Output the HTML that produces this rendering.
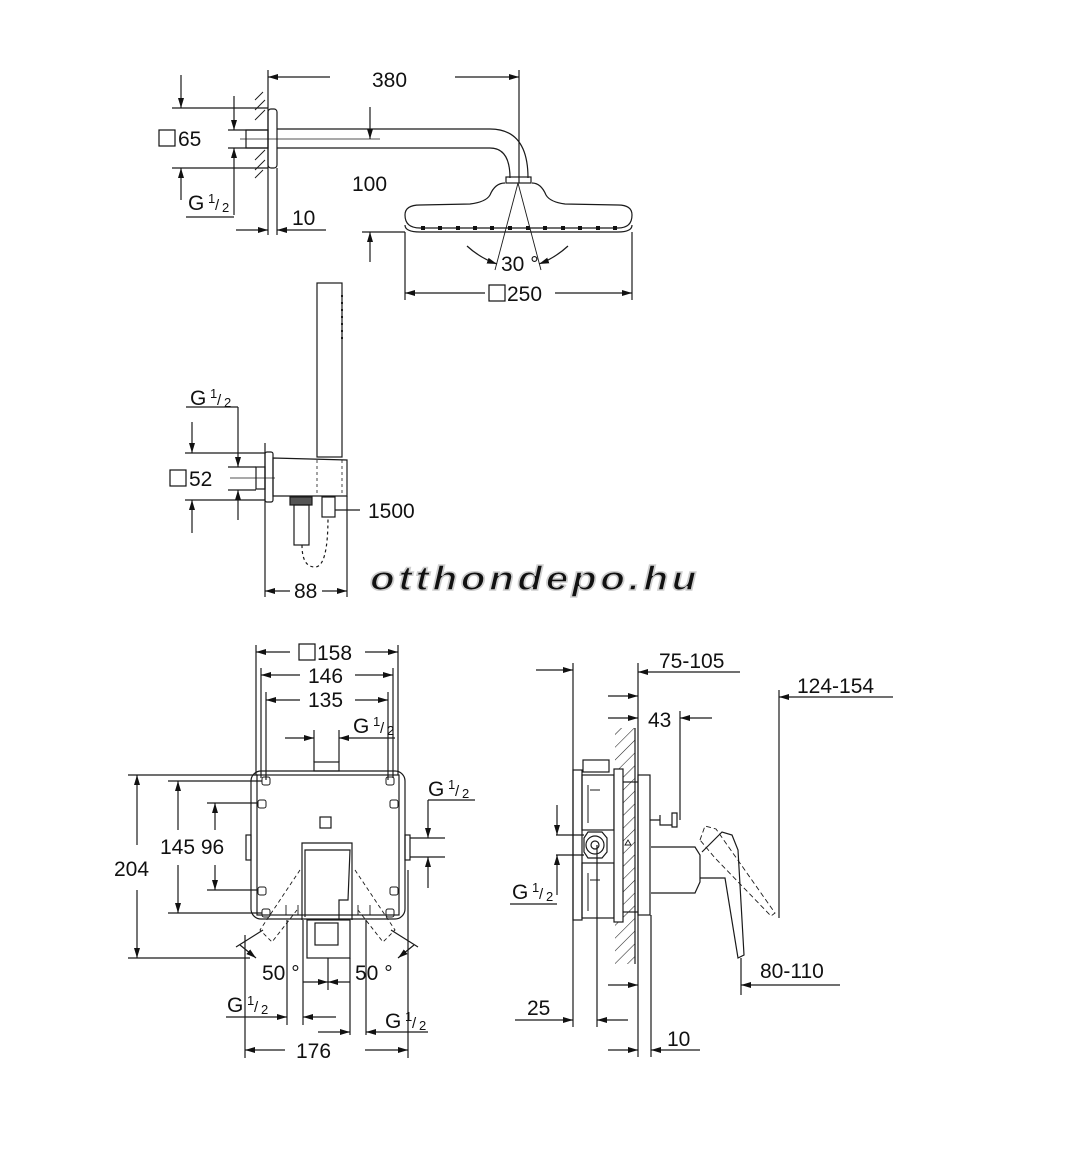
<!DOCTYPE html>
<html><head><meta charset="utf-8"><style>
html,body{margin:0;padding:0;background:#fff;}
svg{display:block}
text{font-family:"Liberation Sans",sans-serif;fill:#111;}
</style></head><body>
<svg width="1070" height="1160" viewBox="0 0 1070 1160" xmlns="http://www.w3.org/2000/svg">
<defs>
<marker id="a" viewBox="0 0 10 6" refX="10" refY="3" markerWidth="10" markerHeight="6" orient="auto-start-reverse" markerUnits="userSpaceOnUse"><path d="M0,0 L10,3 L0,6 z" fill="#111"/></marker>
<pattern id="h" width="9" height="9" patternUnits="userSpaceOnUse" patternTransform="rotate(45)"><line x1="0" y1="0" x2="0" y2="9" stroke="#222" stroke-width="1.1"/></pattern>
</defs>
<g fill="none" stroke="#1a1a1a" stroke-width="1.2">
<line x1="268" y1="70" x2="268" y2="235"/>
<line x1="519" y1="70" x2="519" y2="183"/>
<line x1="330" y1="77" x2="268" y2="77" marker-end="url(#a)"/>
<line x1="455" y1="77" x2="519" y2="77" marker-end="url(#a)"/>
<rect x="268" y="109" width="9" height="59" rx="3"/>
<rect x="246" y="130" width="22" height="18"/>
<path d="M255,100 l8,-8 M255,110 l10,-10 M255,120 l10,-10 M255,160 l10,-10 M255,170 l10,-10 M255,178 l8,-8" stroke-width="0.9"/>
<path d="M277,129 H490 Q528,129 528,178"/>
<path d="M277,148 H490 Q510,148 510,178"/>
<line x1="240" y1="139" x2="380" y2="139" stroke-width="0.8"/>
<rect x="506" y="177" width="25" height="6"/>
<path d="M505,183 Q495,183 490,195 Q486,202 470,204 L420,205 Q405,205 405,215 Q405,228 420,228 L618,228 Q632,228 632,215 Q632,205 618,205 L565,204 Q550,202 546,195 Q541,183 532,183"/>
<path d="M405,225 Q405,232 420,232 L618,232 Q632,232 632,225"/>
<g fill="#111" stroke="none">
<rect x="421" y="226" width="4" height="4"/><rect x="438" y="226" width="4" height="4"/><rect x="456" y="226" width="4" height="4"/><rect x="473" y="226" width="4" height="4"/><rect x="490" y="226" width="4" height="4"/><rect x="508" y="226" width="4" height="4"/><rect x="526" y="226" width="4" height="4"/><rect x="543" y="226" width="4" height="4"/><rect x="561" y="226" width="4" height="4"/><rect x="578" y="226" width="4" height="4"/><rect x="596" y="226" width="4" height="4"/><rect x="613" y="226" width="4" height="4"/>
</g>
<line x1="518" y1="183" x2="495" y2="270" stroke-width="0.9"/>
<line x1="518" y1="183" x2="541" y2="270" stroke-width="0.9"/>
<path d="M467,246 Q480,258 497,264" marker-end="url(#a)"/>
<path d="M568,246 Q555,258 539,264" marker-end="url(#a)"/>
<line x1="405" y1="232" x2="405" y2="300"/>
<line x1="632" y1="232" x2="632" y2="300"/>
<line x1="485" y1="293" x2="405" y2="293" marker-end="url(#a)"/>
<line x1="555" y1="293" x2="632" y2="293" marker-end="url(#a)"/>
<line x1="370" y1="107" x2="370" y2="139" marker-end="url(#a)"/>
<line x1="362" y1="232" x2="405" y2="232"/>
<line x1="370" y1="262" x2="370" y2="232" marker-end="url(#a)"/>
<line x1="172" y1="108" x2="268" y2="108"/>
<line x1="172" y1="168" x2="268" y2="168"/>
<line x1="181" y1="75" x2="181" y2="108" marker-end="url(#a)"/>
<line x1="181" y1="200" x2="181" y2="168" marker-end="url(#a)"/>
<line x1="228" y1="130" x2="268" y2="130"/>
<line x1="228" y1="148" x2="268" y2="148"/>
<line x1="234" y1="96" x2="234" y2="130" marker-end="url(#a)"/>
<line x1="234" y1="215" x2="234" y2="148" marker-end="url(#a)"/>
<line x1="186" y1="217" x2="234" y2="217"/>
<line x1="236" y1="230" x2="268" y2="230" marker-end="url(#a)"/>
<line x1="326" y1="230" x2="277" y2="230" marker-end="url(#a)"/>
<line x1="277" y1="168" x2="277" y2="235"/>
<rect x="317" y="283" width="25" height="174"/>
<path d="M342,295 V340" stroke-dasharray="2,5" stroke-width="2"/>
<line x1="265" y1="443" x2="265" y2="597"/>
<rect x="265" y="452" width="8" height="50" rx="2"/>
<rect x="256" y="467" width="9" height="22"/>
<path d="M273,458 L347,460 L347,496 L273,496 Z"/>
<line x1="317" y1="460" x2="317" y2="496" stroke-dasharray="3,3" stroke-width="0.8"/>
<line x1="342" y1="460" x2="342" y2="496" stroke-dasharray="3,3" stroke-width="0.8"/>
<rect x="290" y="497" width="22" height="8" fill="#555"/>
<rect x="294" y="505" width="15" height="40"/>
<rect x="322" y="497" width="13" height="20"/>
<path d="M302,545 Q302,567 315,567 Q328,567 328,517" stroke-dasharray="3,3"/>
<line x1="335" y1="510" x2="360" y2="510"/>
<line x1="347" y1="496" x2="347" y2="597"/>
<line x1="290" y1="591" x2="265" y2="591" marker-end="url(#a)"/>
<line x1="322" y1="591" x2="347" y2="591" marker-end="url(#a)"/>
<line x1="185" y1="453" x2="265" y2="453"/>
<line x1="185" y1="500" x2="265" y2="500"/>
<line x1="192" y1="422" x2="192" y2="453" marker-end="url(#a)"/>
<line x1="192" y1="533" x2="192" y2="500" marker-end="url(#a)"/>
<line x1="186" y1="407" x2="238" y2="407"/>
<line x1="228" y1="467" x2="256" y2="467"/>
<line x1="228" y1="490" x2="256" y2="490"/>
<line x1="238" y1="407" x2="238" y2="467" marker-end="url(#a)"/>
<line x1="238" y1="520" x2="238" y2="490" marker-end="url(#a)"/>
<line x1="230" y1="478" x2="275" y2="478" stroke-width="0.7"/>
<rect x="251" y="771" width="154" height="148" rx="10"/>
<rect x="257" y="775" width="142" height="140"/>
<rect x="314" y="762" width="25" height="9"/>
<rect x="246" y="835" width="5" height="25"/>
<rect x="405" y="835" width="5" height="25"/>
<g stroke-width="1">
<rect x="262" y="777" width="8" height="8" rx="2"/><rect x="386" y="777" width="8" height="8" rx="2"/>
<rect x="258" y="800" width="8" height="8" rx="2"/><rect x="390" y="800" width="8" height="8" rx="2"/>
<rect x="258" y="887" width="8" height="8" rx="2"/><rect x="390" y="887" width="8" height="8" rx="2"/>
<rect x="262" y="909" width="8" height="8" rx="2"/><rect x="386" y="909" width="8" height="8" rx="2"/>
</g>
<rect x="320" y="817" width="11" height="11"/>
<path d="M302,920 V843 H352 V920"/>
<path d="M305,917 V850 H350 L348,900 H339 V920"/>
<rect x="307" y="920" width="43" height="38"/>
<rect x="315" y="923" width="23" height="22"/>
<path d="M300,870 L260,930 L272,942 L297,910 M355,870 L395,930 L383,942 L358,910" stroke-dasharray="4,3" stroke-width="0.9"/>
<path d="M286,905 v10 M298,905 v10 M358,905 v10 M370,905 v10" stroke-width="0.9"/>
<line x1="256" y1="645" x2="256" y2="775"/>
<line x1="398" y1="645" x2="398" y2="775"/>
<line x1="261" y1="668" x2="261" y2="778"/>
<line x1="393" y1="668" x2="393" y2="778"/>
<line x1="266" y1="692" x2="266" y2="780"/>
<line x1="388" y1="692" x2="388" y2="780"/>
<line x1="290" y1="652" x2="256" y2="652" marker-end="url(#a)"/>
<line x1="365" y1="652" x2="398" y2="652" marker-end="url(#a)"/>
<line x1="300" y1="675" x2="261" y2="675" marker-end="url(#a)"/>
<line x1="355" y1="675" x2="393" y2="675" marker-end="url(#a)"/>
<line x1="300" y1="700" x2="266" y2="700" marker-end="url(#a)"/>
<line x1="355" y1="700" x2="388" y2="700" marker-end="url(#a)"/>
<line x1="314" y1="730" x2="314" y2="762"/>
<line x1="339" y1="730" x2="339" y2="762"/>
<line x1="285" y1="738" x2="314" y2="738" marker-end="url(#a)"/>
<line x1="395" y1="738" x2="339" y2="738" marker-end="url(#a)"/>
<line x1="128" y1="775" x2="258" y2="775"/>
<line x1="128" y1="958" x2="250" y2="958"/>
<line x1="137" y1="845" x2="137" y2="775" marker-end="url(#a)"/>
<line x1="137" y1="890" x2="137" y2="958" marker-end="url(#a)"/>
<line x1="168" y1="781" x2="262" y2="781"/>
<line x1="168" y1="913" x2="262" y2="913"/>
<line x1="178" y1="830" x2="178" y2="781" marker-end="url(#a)"/>
<line x1="178" y1="865" x2="178" y2="913" marker-end="url(#a)"/>
<line x1="207" y1="803" x2="258" y2="803"/>
<line x1="207" y1="890" x2="258" y2="890"/>
<line x1="215" y1="830" x2="215" y2="803" marker-end="url(#a)"/>
<line x1="215" y1="865" x2="215" y2="890" marker-end="url(#a)"/>
<line x1="428" y1="800" x2="475" y2="800"/>
<line x1="410" y1="838" x2="445" y2="838"/>
<line x1="410" y1="857" x2="445" y2="857"/>
<line x1="428" y1="800" x2="428" y2="838" marker-end="url(#a)"/>
<line x1="428" y1="888" x2="428" y2="857" marker-end="url(#a)"/>
<line x1="236" y1="947" x2="263" y2="930"/>
<line x1="418" y1="947" x2="391" y2="930"/>
<line x1="240" y1="945" x2="256" y2="958" marker-end="url(#a)"/>
<line x1="414" y1="945" x2="398" y2="958" marker-end="url(#a)"/>
<line x1="245" y1="935" x2="245" y2="1058"/>
<line x1="408" y1="870" x2="408" y2="1058"/>
<line x1="287" y1="920" x2="287" y2="1025"/>
<line x1="303" y1="920" x2="303" y2="1025"/>
<line x1="350" y1="958" x2="350" y2="1035"/>
<line x1="366" y1="920" x2="366" y2="1035"/>
<line x1="328" y1="958" x2="328" y2="990"/>
<line x1="303" y1="982" x2="328" y2="982" marker-end="url(#a)"/>
<line x1="350" y1="982" x2="328" y2="982" marker-end="url(#a)"/>
<line x1="226" y1="1017" x2="287" y2="1017" marker-end="url(#a)"/>
<line x1="336" y1="1017" x2="303" y2="1017" marker-end="url(#a)"/>
<line x1="318" y1="1032" x2="350" y2="1032" marker-end="url(#a)"/>
<line x1="428" y1="1032" x2="366" y2="1032" marker-end="url(#a)"/>
<line x1="285" y1="1050" x2="245" y2="1050" marker-end="url(#a)"/>
<line x1="365" y1="1050" x2="408" y2="1050" marker-end="url(#a)"/>
<rect x="615" y="728" width="20" height="236" fill="url(#h)" stroke="none"/>
<line x1="635" y1="728" x2="635" y2="964"/>
<line x1="573" y1="663" x2="573" y2="1027"/>
<line x1="638" y1="663" x2="638" y2="1057"/>
<line x1="651" y1="915" x2="651" y2="1057"/>
<line x1="536" y1="670" x2="573" y2="670" marker-end="url(#a)"/>
<line x1="680" y1="672" x2="638" y2="672" marker-end="url(#a)"/>
<line x1="680" y1="672" x2="740" y2="672"/>
<line x1="893" y1="697" x2="779" y2="697" marker-end="url(#a)"/>
<line x1="779" y1="690" x2="779" y2="918"/>
<line x1="608" y1="696" x2="638" y2="696" marker-end="url(#a)"/>
<line x1="608" y1="718" x2="638" y2="718" marker-end="url(#a)"/>
<line x1="712" y1="718" x2="680" y2="718" marker-end="url(#a)"/>
<line x1="680" y1="711" x2="680" y2="820"/>
<rect x="573" y="770" width="9" height="150"/>
<rect x="583" y="760" width="26" height="12"/>
<rect x="582" y="775" width="32" height="55"/>
<rect x="582" y="863" width="32" height="55"/>
<rect x="614" y="769" width="9" height="153" fill="#fff"/>
<rect x="638" y="775" width="12" height="140"/>
<line x1="623" y1="782" x2="638" y2="782"/><line x1="623" y1="912" x2="638" y2="912"/>
<path d="M588,785 v38 M588,873 v38 M590,790 h10 M590,880 h10" stroke-width="1"/>
<polygon points="584,838 588,832 602,832 607,838 607,852 602,858 588,858 584,852"/>
<circle cx="595" cy="845" r="9"/><circle cx="595" cy="845" r="4"/>
<line x1="556" y1="835" x2="584" y2="835"/>
<line x1="556" y1="855" x2="584" y2="855"/>
<line x1="557" y1="805" x2="557" y2="835" marker-end="url(#a)"/>
<line x1="557" y1="895" x2="557" y2="855" marker-end="url(#a)"/>
<line x1="510" y1="904" x2="557" y2="904"/>
<line x1="597" y1="845" x2="597" y2="1027"/>
<path d="M625,845 l3,-5 l3,5 z" stroke-width="0.9"/>
<path d="M650,820 h10 M660,815 v10 h12 M672,813 v14 h5 v-14 z"/>
<path d="M651,847 H695 L700,855 V882 L695,893 H651"/>
<path d="M702,852 L722,832 L732,835 L738,850 L744,955 L738,958 L725,878 H700"/>
<path d="M700,840 L705,826 L716,829 L775,913 L771,916 L715,858 Z" stroke-dasharray="5,3" stroke-width="0.9"/>
<line x1="741" y1="958" x2="741" y2="995"/>
<line x1="840" y1="985" x2="741" y2="985" marker-end="url(#a)"/>
<line x1="608" y1="985" x2="638" y2="985" marker-end="url(#a)"/>
<line x1="515" y1="1020" x2="573" y2="1020" marker-end="url(#a)"/>
<line x1="628" y1="1020" x2="597" y2="1020" marker-end="url(#a)"/>
<line x1="608" y1="1050" x2="638" y2="1050" marker-end="url(#a)"/>
<line x1="700" y1="1050" x2="651" y2="1050" marker-end="url(#a)"/>
</g>
<g font-size="21">
<text x="372" y="87">380</text>
<rect x="159" y="130" width="16" height="16" fill="none" stroke="#111" stroke-width="1.2"/>
<text x="178" y="146">65</text>
<text x="188" y="210">G</text><text x="208" y="203" font-size="13">1</text><text x="215" y="210" font-size="15">/</text><text x="222" y="212" font-size="13">2</text>
<text x="352" y="191">100</text>
<text x="292" y="225">10</text>
<text x="501" y="271">30 °</text>
<rect x="489" y="285" width="16" height="16" fill="none" stroke="#111" stroke-width="1.2"/>
<text x="507" y="301">250</text>
<text x="190" y="405">G</text><text x="210" y="398" font-size="13">1</text><text x="217" y="405" font-size="15">/</text><text x="224" y="407" font-size="13">2</text>
<rect x="170" y="470" width="16" height="16" fill="none" stroke="#111" stroke-width="1.2"/>
<text x="189" y="486">52</text>
<text x="368" y="518">1500</text>
<text x="294" y="598">88</text>
<rect x="299" y="644" width="16" height="16" fill="none" stroke="#111" stroke-width="1.2"/>
<text x="317" y="660">158</text>
<text x="308" y="683">146</text>
<text x="308" y="707">135</text>
<text x="353" y="733">G</text><text x="373" y="726" font-size="13">1</text><text x="380" y="733" font-size="15">/</text><text x="387" y="735" font-size="13">2</text>
<text x="428" y="796">G</text><text x="448" y="789" font-size="13">1</text><text x="455" y="796" font-size="15">/</text><text x="462" y="798" font-size="13">2</text>
<text x="114" y="876">204</text>
<text x="160" y="854">145 96</text>
<text x="262" y="980">50 °</text>
<text x="355" y="980">50 °</text>
<text x="227" y="1012">G</text><text x="247" y="1005" font-size="13">1</text><text x="254" y="1012" font-size="15">/</text><text x="261" y="1014" font-size="13">2</text>
<text x="385" y="1028">G</text><text x="405" y="1021" font-size="13">1</text><text x="412" y="1028" font-size="15">/</text><text x="419" y="1030" font-size="13">2</text>
<text x="296" y="1058">176</text>
<text x="659" y="668">75-105</text>
<text x="797" y="693">124-154</text>
<text x="648" y="727">43</text>
<text x="512" y="899">G</text><text x="532" y="892" font-size="13">1</text><text x="539" y="899" font-size="15">/</text><text x="546" y="901" font-size="13">2</text>
<text x="760" y="978">80-110</text>
<text x="527" y="1015">25</text>
<text x="667" y="1046">10</text>
</g>
<text x="370" y="590" font-size="34" font-weight="bold" font-style="italic" fill="#fff" stroke="#cfcfcf" stroke-width="1.5" letter-spacing="3" textLength="330" lengthAdjust="spacingAndGlyphs">otthondepo.hu</text>
</svg>
</body></html>
